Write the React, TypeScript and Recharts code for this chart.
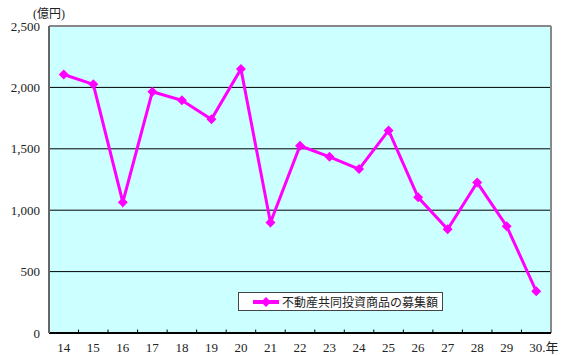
import { LineChart, Line, XAxis, YAxis, CartesianGrid, ReferenceLine } from 'recharts';

const years = [14, 15, 16, 17, 18, 19, 20, 21, 22, 23, 24, 25, 26, 27, 28, 29, 30];
const amounts = [2105, 2025, 1065, 1965, 1895, 1740, 2150, 900, 1525, 1435, 1335, 1650, 1105, 845, 1225, 870, 340];
const yTicks = [0, 500, 1000, 1500, 2000, 2500];
const seriesName = '不動産共同投資商品の募集額';

const data = years.map((y, i) => ({ x: y, value: amounts[i] }));
const boundaries = years.slice(0, -1).map(y => y + 0.5);

const SERIF = '"Liberation Serif", "DejaVu Serif", "Noto Sans CJK JP", serif';

const Diamond = (props: any) => {
  const { cx, cy } = props;
  if (cx == null || cy == null) return null;
  const r = 5;
  return (
    <polygon
      points={`${cx},${cy - r} ${cx + r},${cy} ${cx},${cy + r} ${cx - r},${cy}`}
      fill="#FF00FF"
    />
  );
};

const XTick = (props: any) => {
  const { x, y, payload } = props;
  const last = payload.value === years[years.length - 1];
  return (
    <text x={last ? x - 7 : x} y={y} dy="0.71em" textAnchor={last ? 'start' : 'middle'}
      fontSize={13} fill="#222" fontFamily={SERIF}>
      {last ? `${payload.value}.年` : payload.value}
    </text>
  );
};

// legend drawn as a plain box so it doesn't shift the plot area
const LegendBox = () => (
  <div style={{
    position: 'absolute', left: 238, top: 292,
    width: 203, height: 17, border: '1px solid #444', background: '#fff',
    display: 'flex', alignItems: 'center', fontSize: 12, color: '#222',
    fontFamily: '"Noto Sans CJK JP", sans-serif', boxSizing: 'content-box',
  }}>
    <svg width={28} height={10} style={{ marginLeft: 14, flex: 'none' }}>
      <line x1={0} y1={5} x2={26} y2={5} stroke="#FF00FF" strokeWidth={4} />
      <polygon points="13,0 18,5 13,10 8,5" fill="#FF00FF" />
    </svg>
    <span style={{ marginLeft: 1, whiteSpace: 'nowrap' }}>{seriesName}</span>
  </div>
);

export default function App() {
  return (
    <div style={{ position: 'absolute', left: 0, top: 0, width: 568, height: 356, background: '#fff' }}>
      <LineChart width={568} height={356} data={data} margin={{ top: 26, right: 17, bottom: 0, left: 0 }}>
        <CartesianGrid vertical={false} fill="#CCFFFF" stroke="#000" strokeOpacity={1} />
        <XAxis
          type="number"
          dataKey="x"
          domain={[13.5, 30.5]}
          ticks={years}
          interval={0}
          height={23}
          tickLine={false}
          tickSize={0}
          tickMargin={10}
          axisLine={{ stroke: '#000', strokeWidth: 2 }}
          tick={<XTick />}
        />
        <YAxis
          width={49}
          domain={[0, 2500]}
          ticks={yTicks}
          tickLine={false}
          tickSize={0}
          tickMargin={9}
          axisLine={{ stroke: '#666', strokeWidth: 2 }}
          tickFormatter={(v: number) => v.toLocaleString('en-US')}
          tick={{ fontSize: 13, fill: '#222', fontFamily: SERIF }}
        />
        <ReferenceLine y={2500} stroke="#888" strokeWidth={2} />
        <ReferenceLine x={30.5} stroke="#888" strokeWidth={2} />
        {boundaries.map(b => (
          <ReferenceLine key={b} segment={[{ x: b, y: 0 }, { x: b, y: 28 }]} stroke="#000" strokeWidth={1} />
        ))}
        <Line
          type="linear"
          dataKey="value"
          name={seriesName}
          stroke="#FF00FF"
          strokeWidth={3}
          dot={<Diamond />}
          activeDot={false}
          isAnimationActive={false}
        />
      </LineChart>
      <div style={{ position: 'absolute', left: 33, top: 4, fontSize: 12, fontFamily: SERIF, color: '#222' }}>
        (億円)
      </div>
      <LegendBox />
    </div>
  );
}
